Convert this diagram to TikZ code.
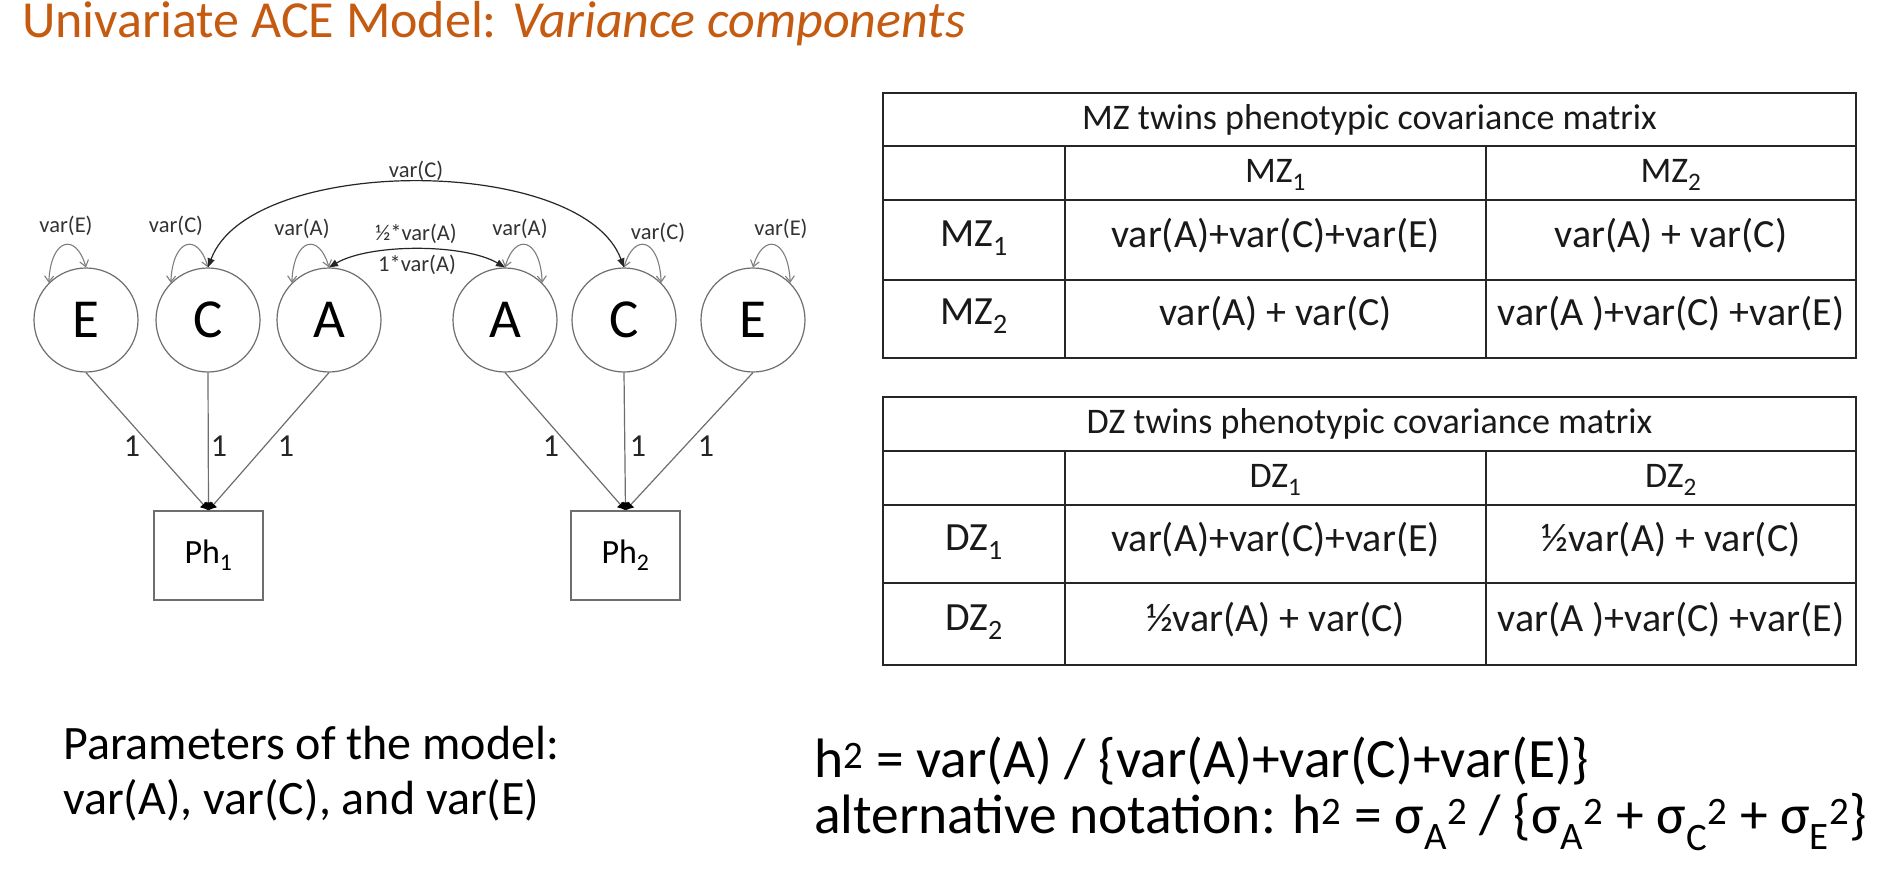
\documentclass[tikz,border=0pt]{standalone}
\usepackage{fontspec}
\setmainfont{Carlito}
\usetikzlibrary{arrows.meta}
\definecolor{titleorange}{HTML}{C55A11}
\definecolor{pathgray}{HTML}{6E6E6E}
\definecolor{loopgray}{HTML}{7F7F7F}
\begin{document}
\begin{tikzpicture}[x=1pt,y=1pt,
  latent/.style={circle, draw=pathgray, line width=1.2pt, minimum size=104pt, inner sep=0pt, font=\fontsize{55}{62}\selectfont},
  manifest/.style={rectangle, draw=pathgray, line width=1.2pt, minimum width=109pt, minimum height=89pt, inner sep=0pt, font=\fontsize{34}{40}\selectfont},
  selfloop/.style={draw=loopgray, line width=1.1pt, {Straight Barb[length=6pt,width=9pt]}-{Straight Barb[length=6pt,width=9pt]}},
  covpath/.style={draw=black!85, line width=1.2pt, {Triangle[length=9pt,width=7pt]}-{Triangle[length=9pt,width=7pt]}},
  loadpath/.style={draw=pathgray, line width=1.2pt, -{Latex[length=8pt,width=9pt,color=black]}},
  looplabel/.style={font=\fontsize{22.5}{27}\selectfont, text=black!80, inner sep=0pt},
  onelabel/.style={font=\fontsize{32}{36}\selectfont, text=black!85, inner sep=0pt},
  tabhead/.style={font=\fontsize{36}{42}\selectfont, text=black!90, inner sep=0pt},
  tabtext/.style={font=\fontsize{40}{46}\selectfont, text=black!90, inner sep=0pt},
  tabline/.style={draw=black!85, line width=1.6pt},
  lefttext/.style={font=\fontsize{48}{56}\selectfont, text=black, inner sep=0pt, anchor=west},
  formtext/.style={font=\fontsize{55.5}{64}\selectfont, text=black, inner sep=0pt, anchor=west}
]
\fill[white] (0,0) rectangle (1888,-888);
\useasboundingbox (0,0) rectangle (1888,-888);

% Title
\node[anchor=west, inner sep=0pt, text=titleorange, font=\fontsize{52}{60}\selectfont] (title) at (22,-24) {Univariate ACE Model: \textit{Variance components}};

% Latent variables
\node[latent] (E1) at (86,-320) {E};
\node[latent] (C1) at (208,-320) {C};
\node[latent] (A1) at (329,-320) {A};
\node[latent] (A2) at (505,-320) {A};
\node[latent] (C2) at (624,-320) {C};
\node[latent] (E2) at (753,-320) {E};

% Manifest variables
\node[manifest] (Ph1) at (208.5,-555.5) {Ph\textsubscript{1}};
\node[manifest] (Ph2) at (625.5,-555.5) {Ph\textsubscript{2}};

% Loadings
\draw[loadpath] (E1.south) -- (Ph1.north);
\draw[loadpath] (C1.south) -- (Ph1.north);
\draw[loadpath] (A1.south) -- (Ph1.north);
\draw[loadpath] (A2.south) -- (Ph2.north);
\draw[loadpath] (C2.south) -- (Ph2.north);
\draw[loadpath] (E2.south) -- (Ph2.north);
\node[onelabel] (l1) at (132,-446) {1};
\node[onelabel] (l2) at (219,-446) {1};
\node[onelabel] (l3) at (286,-446) {1};
\node[onelabel] (l4) at (551,-446) {1};
\node[onelabel] (l5) at (638,-446) {1};
\node[onelabel] (l6) at (706,-446) {1};

% Self loops
\draw[selfloop] (E1.135) .. controls +(2,45) and +(-10,35) .. (E1.90);
\draw[selfloop] (C1.135) .. controls +(2,45) and +(-10,35) .. (C1.90);
\draw[selfloop] (A1.135) .. controls +(2,45) and +(-10,35) .. (A1.90);
\draw[selfloop] (A2.90) .. controls +(10,35) and +(-2,45) .. (A2.45);
\draw[selfloop] (C2.90) .. controls +(10,35) and +(-2,45) .. (C2.45);
\draw[selfloop] (E2.90) .. controls +(10,35) and +(-2,45) .. (E2.45);
\node[looplabel] (vE1) at (66,-226) {var(E)};
\node[looplabel] (vC1) at (176,-226) {var(C)};
\node[looplabel] (vA1) at (302,-229) {var(A)};
\node[looplabel] (vA2) at (520,-229) {var(A)};
\node[looplabel] (vC2) at (658,-233) {var(C)};
\node[looplabel] (vE2) at (781,-229) {var(E)};

% Covariances
\draw[covpath] (C1.north) .. controls +(42,113) and +(-42,113) .. (C2.north);
\node[looplabel] (vCC) at (416,-171) {var(C)};
\draw[covpath] (A1.north) .. controls +(41,24) and +(-41,24) .. (A2.north);
\node[looplabel] (vAhalf) at (416,-234) {½*var(A)};
\node[looplabel] (vAone) at (417,-265) {1*var(A)};

% MZ table
\draw[tabline] (883,-93) rectangle (1856,-358);
\draw[tabline] (883,-146) -- (1856,-146);
\draw[tabline] (883,-200) -- (1856,-200);
\draw[tabline] (883,-280) -- (1856,-280);
\draw[tabline] (1065,-146) -- (1065,-358);
\draw[tabline] (1486,-146) -- (1486,-358);
\node[tabhead] (mzt) at (1369.5,-120) {MZ twins phenotypic covariance matrix};
\node[tabhead] (mzh1) at (1275.5,-175) {MZ\textsubscript{1}};
\node[tabhead] (mzh2) at (1671,-175) {MZ\textsubscript{2}};
\node[tabtext] (mzr1) at (974,-238) {MZ\textsubscript{1}};
\node[tabtext] (mzr2) at (974,-316) {MZ\textsubscript{2}};
\node[tabtext] (mz11) at (1275.5,-236) {var(A)+var(C)+var(E)};
\node[tabtext] (mz12) at (1671,-236) {var(A) + var(C)};
\node[tabtext] (mz21) at (1275.5,-314) {var(A) + var(C)};
\node[tabtext] (mz22) at (1671,-314) {var(A )+var(C) +var(E)};

% DZ table
\draw[tabline] (883,-397) rectangle (1856,-665);
\draw[tabline] (883,-451) -- (1856,-451);
\draw[tabline] (883,-505) -- (1856,-505);
\draw[tabline] (883,-583) -- (1856,-583);
\draw[tabline] (1065,-451) -- (1065,-665);
\draw[tabline] (1486,-451) -- (1486,-665);
\node[tabhead] (dzt) at (1369.5,-424) {DZ twins phenotypic covariance matrix};
\node[tabhead] (dzh1) at (1275.5,-480) {DZ\textsubscript{1}};
\node[tabhead] (dzh2) at (1671,-480) {DZ\textsubscript{2}};
\node[tabtext] (dzr1) at (974,-542) {DZ\textsubscript{1}};
\node[tabtext] (dzr2) at (974,-622) {DZ\textsubscript{2}};
\node[tabtext] (dz11) at (1275.5,-540) {var(A)+var(C)+var(E)};
\node[tabtext] (dz12) at (1671,-540) {½var(A) + var(C)};
\node[tabtext] (dz21) at (1275.5,-620) {½var(A) + var(C)};
\node[tabtext] (dz22) at (1671,-620) {var(A )+var(C) +var(E)};

% Bottom text
\node[lefttext] (par1) at (63,-743) {Parameters of the model:};
\node[lefttext] (par2) at (63,-800) {var(A), var(C), and var(E)};
\node[formtext] (h2a) at (814,-761) {h\textsuperscript{2} = var(A) / \{var(A)+var(C)+var(E)\}};
\node[formtext] (h2b) at (814,-822) {alternative notation: h\textsuperscript{2} = σ\textsubscript{A}\textsuperscript{2} / \{σ\textsubscript{A}\textsuperscript{2} + σ\textsubscript{C}\textsuperscript{2} + σ\textsubscript{E}\textsuperscript{2}\}};
\end{tikzpicture}
\end{document}
